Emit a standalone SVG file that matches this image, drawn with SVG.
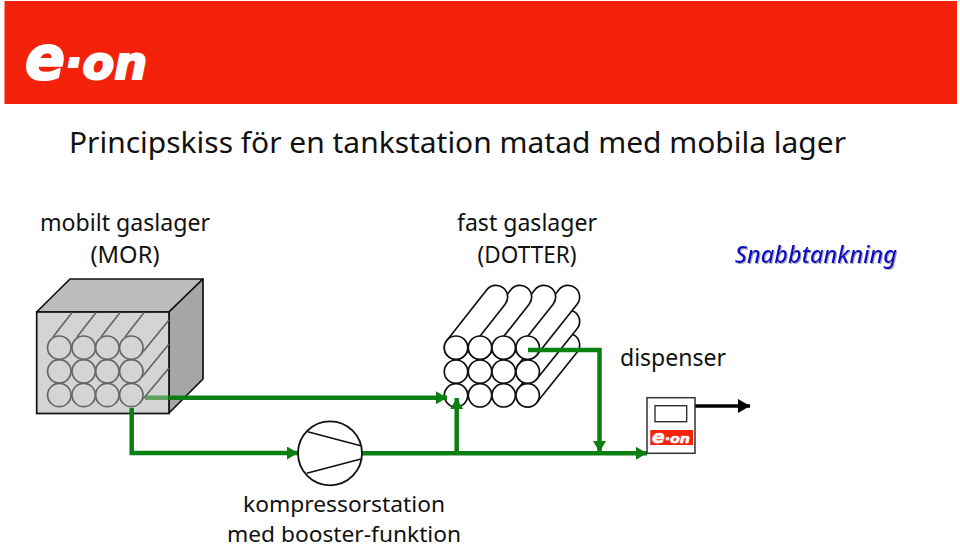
<svg xmlns="http://www.w3.org/2000/svg" width="960" height="549" viewBox="0 0 960 549">
<style>
text{font-family:"Noto Sans","Open Sans","Liberation Sans",sans-serif;fill:#111}
.lbl{font-size:23.500px;text-anchor:middle}
.lbs{font-size:22px;text-anchor:middle}
.logo{font-family:"DejaVu Sans","Liberation Sans",sans-serif;font-weight:700;font-style:italic;fill:#fff;stroke:#fff;stroke-linejoin:round}
.g{fill:none;stroke:#0b7f12;stroke-width:4.500}
.c1{fill:none;stroke:#666;stroke-width:1.700}
.c2{fill:#fff;stroke:#111;stroke-width:1.700}
.l2{fill:none;stroke:#111;stroke-width:1.700}
.tb{stroke:#111;stroke-width:25;stroke-linecap:round;fill:none}
.tw{stroke:#fff;stroke-width:21.600;stroke-linecap:round;fill:none}
</style>
<defs>
<marker id="ag" markerUnits="userSpaceOnUse" markerWidth="12" markerHeight="13" refX="11" refY="6.500" orient="auto"><path d="M0 0L11 6.500L0 13Z" fill="#0b7f12"/></marker>
<marker id="ak" markerUnits="userSpaceOnUse" markerWidth="13" markerHeight="14" refX="12" refY="7" orient="auto"><path d="M0 0L12 7L0 14Z" fill="#000"/></marker>
<filter id="sh" x="-5%" y="-20%" width="110%" height="140%"><feDropShadow dx="1" dy="1" stdDeviation="0.500" flood-color="#aaa"/></filter>
</defs>
<rect width="960" height="549" fill="#fff"/>
<g id="banner">
<rect x="4.500" y="1" width="952.500" height="103" fill="#f4210b"/>
<text class="logo" x="25" y="79" font-size="47" stroke-width="2.200" textLength="122" lengthAdjust="spacingAndGlyphs"><tspan font-size="60">e</tspan>·on</text>
</g>
<text x="69" y="153" font-size="29" textLength="777" lengthAdjust="spacingAndGlyphs">Principskiss för en tankstation matad med mobila lager</text>
<g id="mor">
<path d="M36.700 312L70 279H203L169 312Z" fill="#bdbdbd" stroke="#111" stroke-width="1.700" stroke-linejoin="round"/>
<path d="M169 312L203 279V379L169 413Z" fill="#a6a6a6" stroke="#111" stroke-width="1.700" stroke-linejoin="round"/>
<rect x="36.700" y="312" width="132.300" height="101.500" fill="#d4d4d4" stroke="#111" stroke-width="1.700"/>
<path class="c1" d="M53 337L72 312.500M77 337L96 312.500M101 337L120 312.500M125 337L144 312.500M142 353L169 320M142 377L169 344M143 399L169 368"/>
<g class="c1"><circle cx="59.300" cy="347.700" r="11.700"/><circle cx="83.700" cy="347.700" r="11.700"/><circle cx="107.300" cy="347.700" r="11.700"/><circle cx="131.300" cy="347.700" r="11.700"/><circle cx="59.300" cy="371.300" r="11.700"/><circle cx="83.700" cy="371.300" r="11.700"/><circle cx="107.300" cy="371.300" r="11.700"/><circle cx="131.300" cy="371.300" r="11.700"/><circle cx="59.300" cy="395" r="11.700"/><circle cx="83.700" cy="395" r="11.700"/><circle cx="107.300" cy="395" r="11.700"/><circle cx="131.300" cy="395" r="11.700"/></g>
<text class="lbl" x="125" y="231" textLength="170" lengthAdjust="spacingAndGlyphs">mobilt gaslager</text>
<text class="lbl" x="125" y="263" textLength="69" lengthAdjust="spacingAndGlyphs">(MOR)</text>
</g>
<g id="dotter">
<path class="tb" d="M527.700 395.300L568 345"/><path class="tw" d="M527.700 395.300L568 345"/>
<path class="tb" d="M527.700 371.700L568 321.500"/><path class="tw" d="M527.700 371.700L568 321.500"/>
<path class="tb" d="M527.700 347.700L568 297"/><path class="tw" d="M527.700 347.700L568 297"/>
<path class="tb" d="M503.700 347.700L544 297"/><path class="tw" d="M503.700 347.700L544 297"/>
<path class="tb" d="M480 347.700L520 297"/><path class="tw" d="M480 347.700L520 297"/>
<path class="tb" d="M456 347.700L496 297"/><path class="tw" d="M456 347.700L496 297"/>
<g class="c2"><circle cx="456" cy="347.700" r="11.700"/><circle cx="480" cy="347.700" r="11.700"/><circle cx="503.700" cy="347.700" r="11.700"/><circle cx="527.700" cy="347.700" r="11.700"/><circle cx="456" cy="371.700" r="11.700"/><circle cx="480" cy="371.700" r="11.700"/><circle cx="503.700" cy="371.700" r="11.700"/><circle cx="527.700" cy="371.700" r="11.700"/><circle cx="456" cy="395.300" r="11.700"/><circle cx="480" cy="395.300" r="11.700"/><circle cx="503.700" cy="395.300" r="11.700"/><circle cx="527.700" cy="395.300" r="11.700"/></g>
<text class="lbl" x="527" y="231" textLength="140" lengthAdjust="spacingAndGlyphs">fast gaslager</text>
<text class="lbl" x="527" y="263" textLength="99" lengthAdjust="spacingAndGlyphs">(DOTTER)</text>
</g>
<g id="connectors">
<path class="g" d="M145 397.700H169" opacity=".6"/>
<path class="g" d="M169 397.700H447" marker-end="url(#ag)"/>
<path class="g" d="M131.700 408V453H298" marker-end="url(#ag)"/>
<path class="g" d="M362 453.300H647" marker-end="url(#ag)"/>
<path class="g" d="M456.700 453V398" marker-end="url(#ag)"/>
<path class="g" d="M528 350H599.500V452" marker-end="url(#ag)"/>
<path d="M695 406H750" fill="none" stroke="#000" stroke-width="3.500" marker-end="url(#ak)"/>
</g>
<g id="compressor">
<circle cx="330" cy="453.300" r="32" fill="#fff" stroke="#111" stroke-width="1.800"/>
<path class="l2" d="M307.700 431.700L360.700 445.700M306.700 473.300L361 459"/>
<text class="lbs" x="344" y="512" textLength="202" lengthAdjust="spacingAndGlyphs">kompressorstation</text>
<text class="lbs" x="344" y="542" textLength="234" lengthAdjust="spacingAndGlyphs">med booster-funktion</text>
</g>
<g id="dispenser">
<rect x="647" y="397.700" width="48" height="55.600" fill="#fff" stroke="#333" stroke-width="1.500"/>
<rect x="655" y="405.700" width="31.700" height="16" fill="#fff" stroke="#222" stroke-width="1.300"/>
<rect x="650.300" y="430" width="42.700" height="15" fill="#f4210b"/>
<text class="logo" x="652" y="442.500" font-size="13" stroke-width=".6" textLength="38" lengthAdjust="spacingAndGlyphs"><tspan font-size="17">e</tspan>·on</text>
<text class="lbl" x="673" y="366" textLength="106" lengthAdjust="spacingAndGlyphs">dispenser</text>
</g>
<text x="735" y="263" font-size="24" font-style="italic" font-weight="500" textLength="162" lengthAdjust="spacingAndGlyphs" style="fill:#0808c8" filter="url(#sh)">Snabbtankning</text>
</svg>
